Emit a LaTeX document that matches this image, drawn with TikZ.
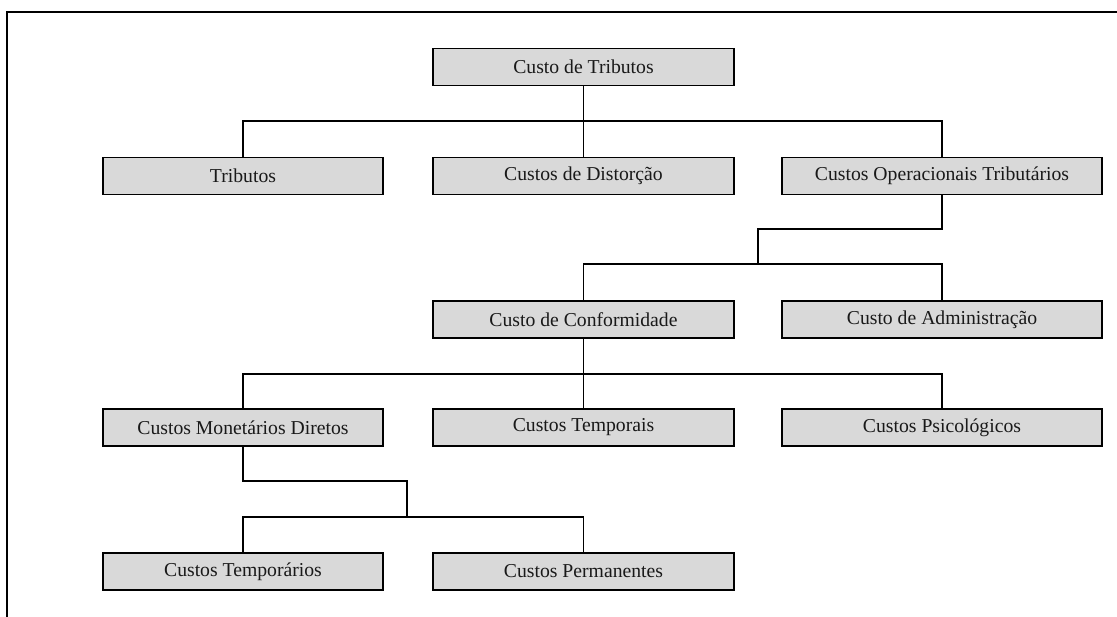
\documentclass[tikz,border=0pt]{standalone}
\usepackage{fontspec}
\setmainfont{Liberation Serif}
\usetikzlibrary{positioning,calc}
\definecolor{boxgray}{RGB}{217,217,217}

\begin{document}
\begin{tikzpicture}[x=0.025cm, y=-0.025cm,
    box/.style={draw, line width=1.2pt, fill=boxgray, minimum height=0.93cm,
                inner sep=0pt, text=black!90, font=\fontsize{14}{17}\selectfont},
    wleft/.style={minimum width=6.99cm},
    wmid/.style={minimum width=7.52cm},
    wright/.style={minimum width=8.0cm},
    link/.style={line width=0.75pt}]
   \useasboundingbox (0,0) rectangle (1117,617);

   % frame
   \coordinate (fa) at (7,617);
   \coordinate (fb) at (7,12);
   \coordinate (fc) at (1117,12);
   \draw[line width=1.2pt] (fa) -- (fb) -- (fc);

   % boxes
   \node[box, wmid]   (ct)   at (583.5,67)    {Custo de Tributos};
   \node[box, wleft]  (trib) at (243,176)     {Tributos};
   \node[box, wmid]   (dist) at (583.5,176)   {Custos de Distorção};
   \node[box, wright] (cot)  at (942,176)     {Custos Operacionais Tributários};
   \node[box, wmid]   (conf) at (583.5,319.5) {Custo de Conformidade};
   \node[box, wright] (adm)  at (942,319.5)   {Custo de Administração};
   \node[box, wleft]  (mon)  at (243,427.5)   {Custos Monetários Diretos};
   \node[box, wmid]   (temp) at (583.5,427.5) {Custos Temporais};
   \node[box, wright] (psi)  at (942,427.5)   {Custos Psicológicos};
   \node[box, wleft]  (tmpr) at (243,571.5)   {Custos Temporários};
   \node[box, wmid]   (perm) at (583.5,571.5) {Custos Permanentes};

   % joints
   \coordinate (j1) at (583.5,121);
   \coordinate (k1) at (758,229);
   \coordinate (k2) at (758,264);
   \coordinate (j3) at (583.5,374);
   \coordinate (m1) at (407,481);
   \coordinate (m2) at (407,517);

   % connectors
   \draw[link] (ct.south) -- (j1);
   \draw[link] (trib.north) |- (j1) -| (cot.north);
   \draw[link] (j1) -- (dist.north);
   \draw[link] (cot.south) |- (k1) -- (k2);
   \draw[link] (conf.north) |- (k2) -| (adm.north);
   \draw[link] (conf.south) -- (j3);
   \draw[link] (mon.north) |- (j3) -| (psi.north);
   \draw[link] (j3) -- (temp.north);
   \draw[link] (mon.south) |- (m1) -- (m2);
   \draw[link] (tmpr.north) |- (m2) -| (perm.north);
\end{tikzpicture}
\end{document}
